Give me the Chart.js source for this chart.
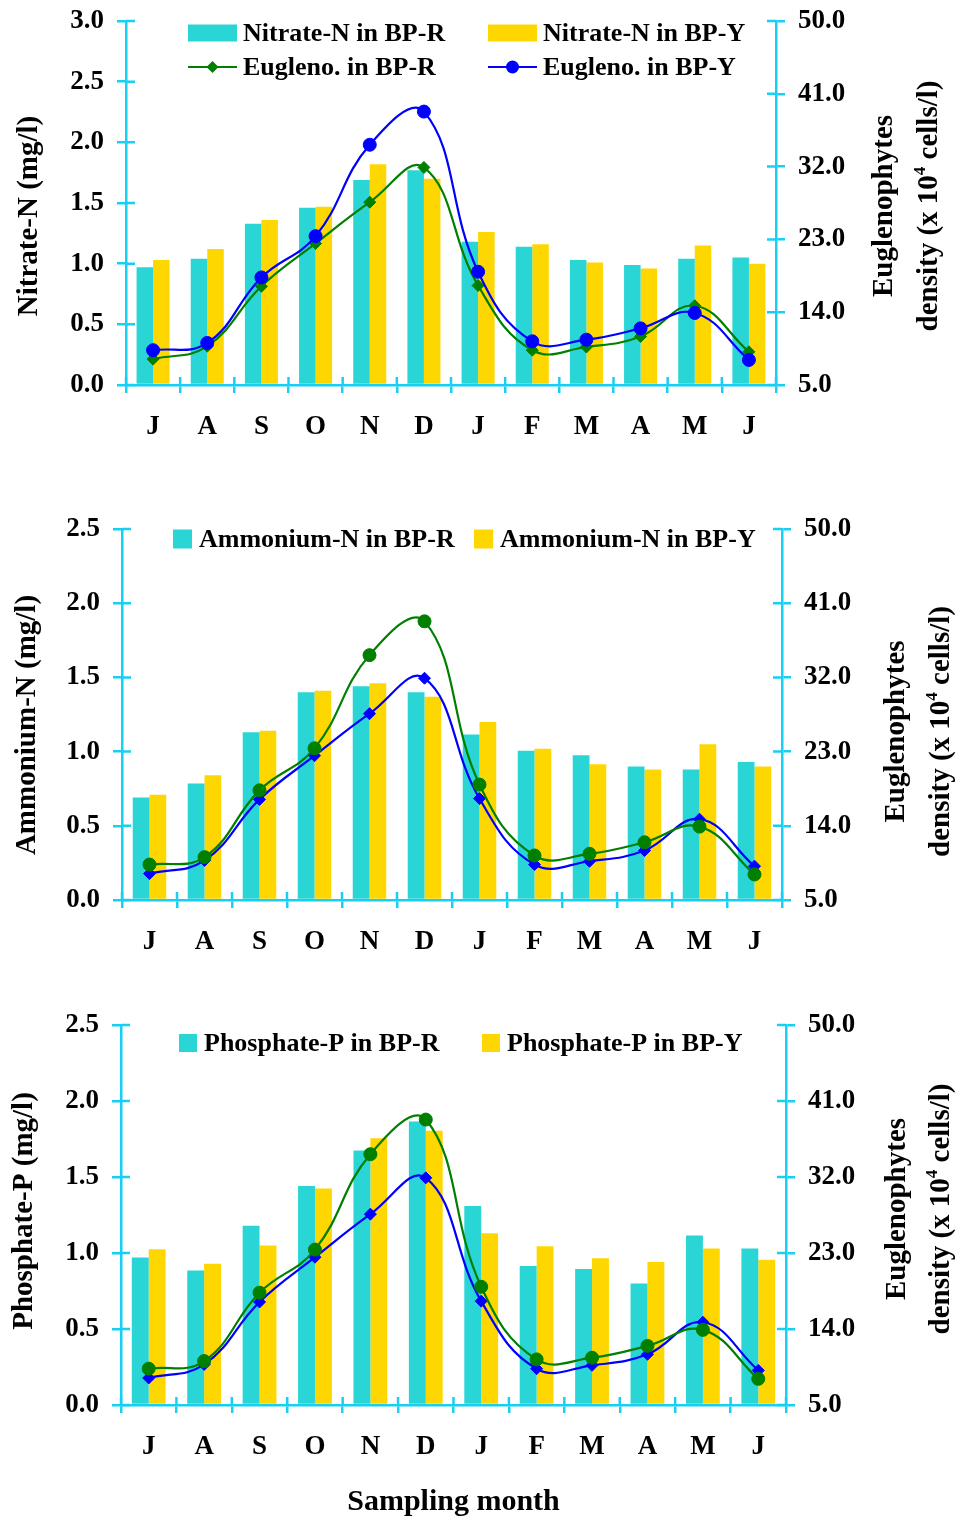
<!DOCTYPE html>
<html>
<head>
<meta charset="utf-8">
<script src="https://cdn.jsdelivr.net/npm/chart.js@4.4.1/dist/chart.umd.min.js"></script>
<style>
  body { margin: 0; background: #fff; }
  #wrap { position: relative; width: 963px; height: 1517px; }
  canvas { position: absolute; left: 0; }
</style>
</head>
<body>
<div id="wrap">
  <canvas id="nitrate" width="963" height="470" style="top:0px"></canvas>
  <canvas id="ammonium" width="963" height="495" style="top:470px"></canvas>
  <canvas id="phosphate" width="963" height="552" style="top:965px"></canvas>
</div>
<script>
// months Jul..Jun
const months = ['J', 'A', 'S', 'O', 'N', 'D', 'J', 'F', 'M', 'A', 'M', 'J'];

// nutrients (mg/l)
const nitrateR = [0.97, 1.04, 1.33, 1.46, 1.69, 1.77, 1.18, 1.14, 1.03, 0.99, 1.04, 1.05];
const nitrateY = [1.03, 1.12, 1.36, 1.47, 1.82, 1.70, 1.26, 1.16, 1.01, 0.96, 1.15, 1.00];
const ammoniumR = [0.69, 0.785, 1.13, 1.40, 1.44, 1.40, 1.115, 1.005, 0.975, 0.90, 0.88, 0.93];
const ammoniumY = [0.71, 0.84, 1.14, 1.41, 1.46, 1.37, 1.20, 1.02, 0.915, 0.88, 1.05, 0.90];
const phosphateR = [0.97, 0.885, 1.18, 1.44, 1.675, 1.865, 1.31, 0.915, 0.895, 0.80, 1.115, 1.03];
const phosphateY = [1.025, 0.93, 1.05, 1.425, 1.755, 1.805, 1.13, 1.045, 0.965, 0.94, 1.03, 0.955];

// Euglenophytes density (x 10^4 cells/l)
const euglenoR = [8.2, 9.8, 17.2, 22.5, 27.6, 31.9, 17.3, 9.3, 9.7, 11.0, 14.8, 9.1];
const euglenoY = [9.3, 10.2, 18.3, 23.4, 34.7, 38.8, 19.0, 10.4, 10.6, 12.0, 13.9, 8.1];

// axis ticks
const nitrateTicks = [0, 0.5, 1.0, 1.5, 2.0, 2.5, 3.0];
const nutrientTicks = [0, 0.5, 1.0, 1.5, 2.0, 2.5];
const densityTicks = [5, 14, 23, 32, 41, 50];

const axisColor = '#17CFF5';
const tealColor = '#2AD5D5';
const goldColor = '#FFD700';
const greenColor = '#007F00';
const blueColor = '#0000FF';
const fontFamily = "'Liberation Serif', 'Times New Roman', serif";

Chart.defaults.font.family = fontFamily;
Chart.defaults.font.weight = 'bold';
Chart.defaults.color = '#000';

function drawMarker(ctx, style, x, y, r) {
  ctx.beginPath();
  if (style === 'rectRot') {
    ctx.moveTo(x, y - r);
    ctx.lineTo(x + r, y);
    ctx.lineTo(x, y + r);
    ctx.lineTo(x - r, y);
    ctx.closePath();
  } else {
    ctx.arc(x, y, r, 0, Math.PI * 2);
  }
  ctx.fill();
}

// ticks that cross the axis lines (Chart.js only draws them outside)
const crossTicks = {
  id: 'crossTicks',
  afterDraw(chart) {
    const ctx = chart.ctx;
    const area = chart.chartArea;
    const { x, y, y1 } = chart.scales;
    ctx.save();
    ctx.strokeStyle = axisColor;
    ctx.lineWidth = 2.5;
    ctx.beginPath();
    y.ticks.forEach(t => {
      const py = y.getPixelForValue(t.value);
      ctx.moveTo(area.left, py);
      ctx.lineTo(area.left + 9, py);
    });
    y1.ticks.forEach(t => {
      const py = y1.getPixelForValue(t.value);
      ctx.moveTo(area.right - 9, py);
      ctx.lineTo(area.right, py);
    });
    const half = (x.getPixelForValue(1) - x.getPixelForValue(0)) / 2;
    for (let i = 0; i <= months.length; i++) {
      const px = x.getPixelForValue(i) - half;
      ctx.moveTo(px, area.bottom - 8);
      ctx.lineTo(px, area.bottom);
    }
    ctx.stroke();
    ctx.restore();
  }
};

// legend drawn inside the plot area
const boxLegend = {
  id: 'boxLegend',
  afterDraw(chart, args, opts) {
    const ctx = chart.ctx;
    ctx.save();
    opts.items.forEach(it => {
      const ds = chart.data.datasets[it.index];
      if (it.kind === 'line') {
        ctx.strokeStyle = ds.borderColor;
        ctx.lineWidth = 2.2;
        ctx.beginPath();
        ctx.moveTo(it.x0, it.y);
        ctx.lineTo(it.x1, it.y);
        ctx.stroke();
        ctx.fillStyle = ds.borderColor;
        drawMarker(ctx, ds.pointStyle, (it.x0 + it.x1) / 2, it.y, ds.pointRadius);
      } else {
        ctx.fillStyle = ds.backgroundColor;
        ctx.fillRect(it.x0, it.y - it.h / 2, it.x1 - it.x0, it.h);
      }
      ctx.fillStyle = '#000';
      ctx.font = 'bold 26px ' + fontFamily;
      ctx.textBaseline = 'middle';
      ctx.textAlign = 'left';
      ctx.fillText(ds.label, it.tx, it.y + 1);
    });
    ctx.restore();
  }
};

// vertical axis titles (both read bottom to top)
const axisTitles = {
  id: 'axisTitles',
  afterDraw(chart, args, o) {
    const ctx = chart.ctx;
    const area = chart.chartArea;
    const cy = (area.top + area.bottom) / 2;
    const size = 29;
    ctx.save();
    ctx.fillStyle = '#000';
    ctx.textBaseline = 'middle';
    ctx.textAlign = 'center';
    ctx.font = 'bold ' + size + 'px ' + fontFamily;

    ctx.save();
    ctx.translate(area.left + o.leftDx, cy + o.leftDy);
    ctx.rotate(-Math.PI / 2);
    ctx.fillText(o.leftText, 0, 0);
    ctx.restore();

    ctx.save();
    ctx.translate(area.right + o.rightDx1, cy + o.rightDy);
    ctx.rotate(-Math.PI / 2);
    ctx.fillText('Euglenophytes', 0, 0);
    ctx.restore();

    ctx.save();
    ctx.translate(area.right + o.rightDx2, cy + o.rightDy);
    ctx.rotate(-Math.PI / 2);
    ctx.textAlign = 'left';
    const p1 = 'density (x 10', p2 = '4', p3 = ' cells/l)';
    const w1 = ctx.measureText(p1).width;
    const w3 = ctx.measureText(p3).width;
    ctx.font = 'bold ' + Math.round(size * 0.6) + 'px ' + fontFamily;
    const w2 = ctx.measureText(p2).width;
    let sx = -(w1 + w2 + w3) / 2;
    ctx.font = 'bold ' + size + 'px ' + fontFamily;
    ctx.fillText(p1, sx, 0);
    ctx.font = 'bold ' + Math.round(size * 0.6) + 'px ' + fontFamily;
    ctx.fillText(p2, sx + w1, -size * 0.33);
    ctx.font = 'bold ' + size + 'px ' + fontFamily;
    ctx.fillText(p3, sx + w1 + w2, 0);
    ctx.restore();

    ctx.restore();
  }
};

function lineSet(label, data, color, style, radius, order) {
  return {
    type: 'line', label: label, data: data, yAxisID: 'y1', order: order,
    borderColor: color, backgroundColor: color, borderWidth: 2.2,
    pointStyle: style, pointRadius: radius, pointBorderWidth: 1,
    pointBackgroundColor: color, pointBorderColor: color,
    tension: 0.42, fill: false
  };
}

function buildChart(id, s) {
  const tickFont = { size: 27, weight: 'bold' };
  return new Chart(document.getElementById(id), {
    type: 'bar',
    data: {
      labels: months,
      datasets: [
        { type: 'bar', label: s.barLabels[0], data: s.barR, backgroundColor: tealColor, yAxisID: 'y', order: 2 },
        { type: 'bar', label: s.barLabels[1], data: s.barY, backgroundColor: goldColor, yAxisID: 'y', order: 2 },
        lineSet('Eugleno. in BP-R', euglenoR, s.colorR, 'rectRot', 6, 1),
        lineSet('Eugleno. in BP-Y', euglenoY, s.colorY, 'circle', 6.5, 0)
      ]
    },
    options: {
      responsive: false,
      animation: false,
      datasets: { bar: { barPercentage: 1, categoryPercentage: 0.61 } },
      layout: { padding: { top: s.top, left: 0, right: 0, bottom: 0 } },
      plugins: {
        legend: { display: false },
        tooltip: { enabled: false },
        boxLegend: { items: s.legend },
        axisTitles: s.titles
      },
      scales: {
        x: {
          offset: true,
          grid: { offset: true, drawOnChartArea: false, drawTicks: true, tickLength: 8, color: axisColor, lineWidth: 2.5 },
          border: { color: axisColor, width: 2.5 },
          ticks: { font: tickFont, color: '#000', padding: 18, maxRotation: 0, autoSkip: false },
          title: s.xTitle
            ? { display: true, text: s.xTitle, color: '#000', font: { size: 30, weight: 'bold' }, padding: { top: 0, bottom: -3 } }
            : { display: false },
          afterFit: sc => { sc.height = s.xHeight; sc.paddingLeft = 0; sc.paddingRight = 0; }
        },
        y: {
          position: 'left',
          min: 0,
          max: s.leftTicks[s.leftTicks.length - 1],
          afterBuildTicks: sc => { sc.ticks = s.leftTicks.map(v => ({ value: v })); },
          ticks: { font: tickFont, color: '#000', padding: 13, callback: v => Number(v).toFixed(1) },
          grid: { drawOnChartArea: false, drawTicks: true, tickLength: 9, color: axisColor, lineWidth: 2.5 },
          border: { color: axisColor, width: 2.5 },
          afterFit: sc => { sc.width = s.left; sc.paddingTop = 0; sc.paddingBottom = 0; }
        },
        y1: {
          position: 'right',
          min: densityTicks[0],
          max: densityTicks[densityTicks.length - 1],
          afterBuildTicks: sc => { sc.ticks = densityTicks.map(v => ({ value: v })); },
          ticks: { font: tickFont, color: '#000', padding: 13, callback: v => Number(v).toFixed(1) },
          grid: { drawOnChartArea: false, drawTicks: true, tickLength: 9, color: axisColor, lineWidth: 2.5 },
          border: { color: axisColor, width: 2.5 },
          afterFit: sc => { sc.width = 963 - s.right; sc.paddingTop = 0; sc.paddingBottom = 0; }
        }
      }
    },
    plugins: [crossTicks, boxLegend, axisTitles]
  });
}

buildChart('nitrate', {
  barLabels: ['Nitrate-N in BP-R', 'Nitrate-N in BP-Y'],
  barR: nitrateR, barY: nitrateY,
  colorR: greenColor, colorY: blueColor,
  leftTicks: nitrateTicks,
  top: 21, xHeight: 85, left: 126, right: 776,
  titles: { leftText: 'Nitrate-N (mg/l)', leftDx: -96.5, leftDy: 13, rightDx1: 109, rightDx2: 154, rightDy: 3 },
  legend: [
    { index: 0, x0: 188, x1: 237, y: 33, h: 17, tx: 243 },
    { index: 1, x0: 488, x1: 537, y: 33, h: 17, tx: 543 },
    { index: 2, kind: 'line', x0: 188, x1: 237, y: 67, tx: 243 },
    { index: 3, kind: 'line', x0: 488, x1: 537, y: 67, tx: 543 }
  ]
});

buildChart('ammonium', {
  barLabels: ['Ammonium-N in BP-R', 'Ammonium-N in BP-Y'],
  barR: ammoniumR, barY: ammoniumY,
  colorR: blueColor, colorY: greenColor,
  leftTicks: nutrientTicks,
  top: 59, xHeight: 65, left: 122, right: 782,
  titles: { leftText: 'Ammonium-N (mg/l)', leftDx: -94.5, leftDy: 10.5, rightDx1: 115, rightDx2: 160, rightDy: 17 },
  legend: [
    { index: 0, x0: 173, x1: 192, y: 69, h: 19, tx: 199 },
    { index: 1, x0: 474, x1: 493, y: 69, h: 19, tx: 500 }
  ]
});

buildChart('phosphate', {
  barLabels: ['Phosphate-P in BP-R', 'Phosphate-P in BP-Y'],
  barR: phosphateR, barY: phosphateY,
  colorR: blueColor, colorY: greenColor,
  leftTicks: nutrientTicks,
  top: 60, xHeight: 112, left: 121, right: 786,
  xTitle: 'Sampling month',
  titles: { leftText: 'Phosphate-P (mg/l)', leftDx: -96.5, leftDy: -4, rightDx1: 112, rightDx2: 156, rightDy: -6 },
  legend: [
    { index: 0, x0: 179, x1: 197, y: 78, h: 18, tx: 204 },
    { index: 1, x0: 482, x1: 500, y: 78, h: 18, tx: 507 }
  ]
});
</script>
</body>
</html>
